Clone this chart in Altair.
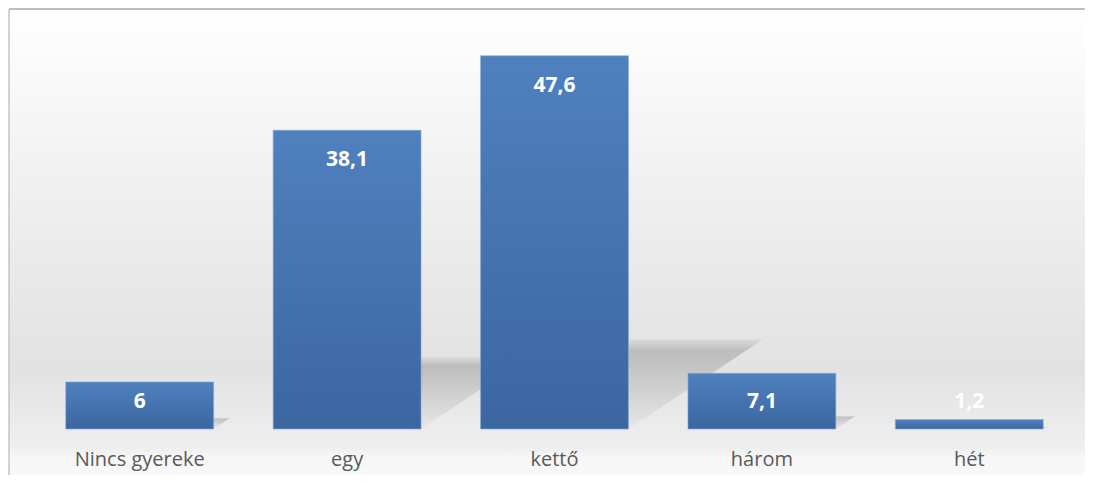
import altair as alt
import pandas as pd

categories = ["Nincs gyereke", "egy", "kettő", "három", "hét"]
values = [6, 38.1, 47.6, 7.1, 1.2]
value_labels = ["6", "38,1", "47,6", "7,1", "1,2"]

W, H = 1037, 392
Y_MAX = 50
PAD_INNER = 0.287
HALF_BAND = (1 - PAD_INNER) / 2  # in index units
PAD_R = 12

df = pd.DataFrame({
    "cat": categories,
    "value": values,
    "label": value_labels,
})
# label position: inside end, but kept above the bottom for short bars
df["lab"] = [max(v - 3.83, 3.44) for v in values]

# projected shadow (decoration), derived from bar heights
rows = []
for i, (c, v) in enumerate(zip(categories, values)):
    right = i + HALF_BAND
    skew = v * 0.0136
    top = v * 0.24
    rows.append({"cat": c, "sx": right, "top": top, "bot": 0})
    rows.append({"cat": c, "sx": right + skew, "top": top, "bot": top})
shadow_df = pd.DataFrame(rows)

one = pd.DataFrame({"a": [0]})

bg = alt.Chart(one).mark_rect(
    fill=alt.Gradient(
        gradient="linear", x1=0, x2=0, y1=0, y2=1,
        stops=[
            alt.GradientStop(offset=0, color="#ffffff"),
            alt.GradientStop(offset=0.35, color="#f0f0f0"),
            alt.GradientStop(offset=0.72, color="#e2e2e2"),
            alt.GradientStop(offset=0.88, color="#efefef"),
            alt.GradientStop(offset=0.895, color="#f6f6f6"),
            alt.GradientStop(offset=1, color="#fdfdfd"),
        ],
    ),
).encode(
    x=alt.value(-27), x2=alt.value(W + PAD_R),
    y=alt.value(-28), y2=alt.value(H + 80),
)

top_border = alt.Chart(one).mark_rule(color="#a8a8a8", strokeWidth=1.5).encode(
    x=alt.value(-27), x2=alt.value(W + PAD_R), y=alt.value(-28),
)
left_border = alt.Chart(one).mark_rule(color="#c4c4c4", strokeWidth=1.5).encode(
    x=alt.value(-27), y=alt.value(-28), y2=alt.value(H + 80),
)

shadow = alt.Chart(shadow_df).mark_area(
    interpolate="linear",
    fill=alt.Gradient(
        gradient="linear", x1=0, x2=0, y1=0, y2=1,
        stops=[
            alt.GradientStop(offset=0, color="rgba(0,0,0,0.04)"),
            alt.GradientStop(offset=0.12, color="rgba(0,0,0,0.17)"),
            alt.GradientStop(offset=0.5, color="rgba(0,0,0,0.10)"),
            alt.GradientStop(offset=1, color="rgba(0,0,0,0.02)"),
        ],
    ),
).encode(
    x=alt.X("sx:Q", scale=alt.Scale(domain=[-0.5, len(categories) - 0.5], nice=False, zero=False), axis=None),
    y=alt.Y("top:Q", scale=alt.Scale(domain=[0, Y_MAX], nice=False), axis=None),
    y2="bot:Q",
    detail="cat:N",
)

band = alt.Scale(paddingInner=PAD_INNER, paddingOuter=PAD_INNER / 2)

bars = alt.Chart(df).mark_bar(
    fill=alt.Gradient(
        gradient="linear", x1=0, x2=0, y1=0, y2=1,
        stops=[
            alt.GradientStop(offset=0, color="#4f81be"),
            alt.GradientStop(offset=1, color="#3b66a1"),
        ],
    ),
    stroke="#86a8d3",
    strokeWidth=1,
    strokeOpacity=0.6,
).encode(
    x=alt.X(
        "cat:N", sort=categories, scale=band,
        axis=alt.Axis(title=None, domain=False, ticks=False, labelAngle=0,
                      labelFont="Open Sans", labelFontSize=20, labelColor="#595959",
                      labelPadding=20, zindex=1),
    ),
    y=alt.Y("value:Q", scale=alt.Scale(domain=[0, Y_MAX], nice=False), axis=None),
)

labels = alt.Chart(df).mark_text(
    font="Open Sans", fontSize=21, fontWeight="bold", color="white", baseline="middle",
).encode(
    x=alt.X("cat:N", sort=categories, scale=band),
    y=alt.Y("lab:Q", scale=alt.Scale(domain=[0, Y_MAX], nice=False), axis=None),
    text="label:N",
)

front = alt.layer(bars, labels)
chart = alt.layer(bg, top_border, left_border, shadow, front).resolve_scale(x="independent").resolve_axis(x="independent").properties(
    width=W, height=H,
    autosize=alt.AutoSizeParams(type="none"),
    padding={"left": 28, "top": 29, "right": PAD_R, "bottom": 46},
).configure_view(stroke=None).configure(background="white")

chart.save("out.html", embed_options={"renderer": "svg", "actions": False})
